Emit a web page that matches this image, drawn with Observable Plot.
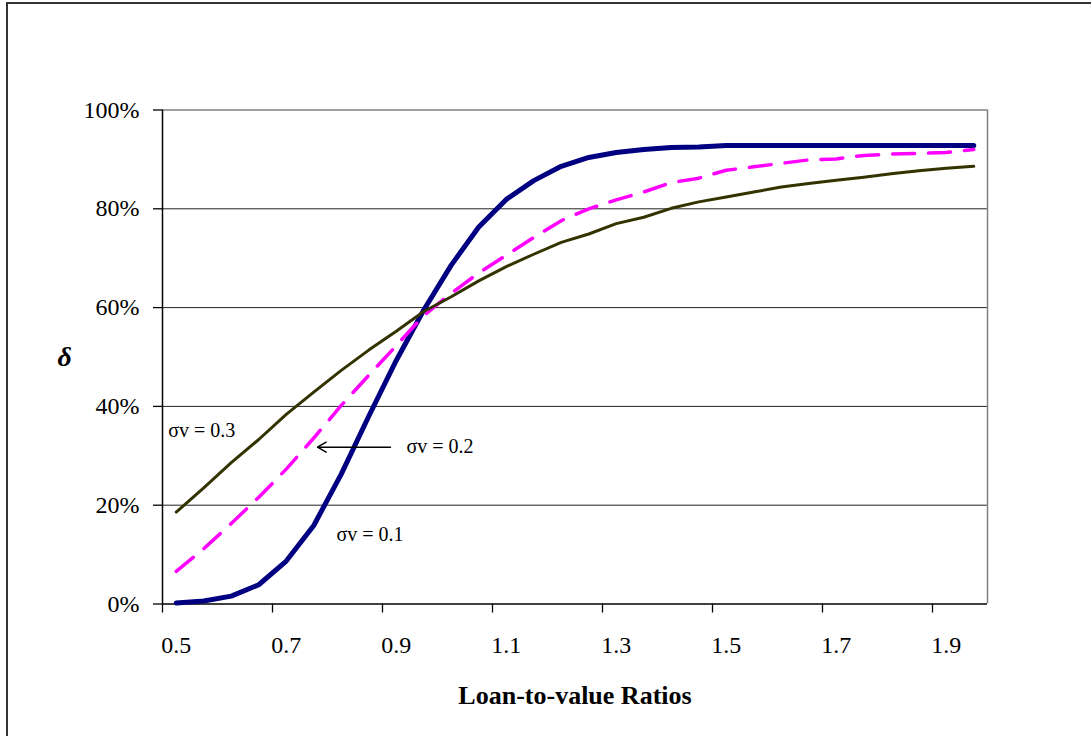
<!DOCTYPE html>
<html><head><meta charset="utf-8">
<script src="https://cdn.jsdelivr.net/npm/d3@7"></script>
<script src="https://cdn.jsdelivr.net/npm/@observablehq/plot@0.6"></script>
<style>
html,body{margin:0;padding:0;background:#fff;overflow:hidden;width:1091px;height:736px}
#frame{position:absolute;left:6px;top:2px;width:1200px;height:800px;border-left:2px solid #333;border-top:2px solid #333;}
#chart{position:absolute;left:0;top:0}
</style></head><body><div id="frame"></div><div id="chart"></div>
<script>
const ltv = [0.5,0.55,0.6,0.65,0.7,0.75,0.8,0.85,0.9,0.95,1.0,1.05,1.1,1.15,1.2,1.25,1.3,1.35,1.4,1.45,1.5,1.55,1.6,1.65,1.7,1.75,1.8,1.85,1.9,1.95];
const sigma01 = [0.2,0.6,1.6,3.9,8.7,15.9,26.3,38.0,49.3,59.5,68.6,76.3,81.9,85.7,88.6,90.4,91.4,92.0,92.4,92.5,92.8,92.8,92.8,92.8,92.8,92.8,92.8,92.8,92.8,92.8];
const sigma02 = [6.6,11.2,16.3,21.6,27.3,33.6,40.2,46.3,52.3,58.4,62.9,67.0,70.6,74.2,77.6,80.0,81.8,83.4,85.3,86.2,87.8,88.5,89.2,89.9,90.1,90.8,91.1,91.2,91.4,92.0];
const sigma03 = [18.6,23.5,28.6,33.3,38.4,42.9,47.3,51.4,55.2,59.2,62.2,65.4,68.3,70.8,73.2,74.9,77.0,78.3,80.1,81.4,82.4,83.4,84.4,85.1,85.8,86.4,87.1,87.7,88.2,88.6];
const xTickLabels = ["0.5","0.7","0.9","1.1","1.3","1.5","1.7","1.9"];
const yTicks = [0,20,40,60,80,100];
const annotations = [
  {label:"σv = 0.3", x:0.4854, y:33.9},
  {label:"σv = 0.2", x:0.9186, y:30.5},
  {label:"σv = 0.1", x:0.7914, y:12.85}
];
const arrowSpec = [{x1:0.8895, x2:0.7568, y:31.74}];
const xTitle = "Loan-to-value Ratios";
const yTitle = "δ";

const step = 0.05;
const x0 = ltv[0] - step/2, x1 = ltv[ltv.length-1] + step/2;
const toRows = vals => ltv.map((x,i) => ({x, v: vals[i]}));
const serif = "'Liberation Serif','Times New Roman',serif";

const plot = Plot.plot({
  width: 1091, height: 736,
  marginLeft: 162, marginRight: 104, marginTop: 109.5, marginBottom: 132.5,
  style: {fontFamily: serif, fontSize: "24px", color: "#000", background: "transparent"},
  x: {domain: [x0, x1]},
  y: {domain: [0, 100]},
  marks: [
    Plot.ruleY(yTicks.filter(d => d > 0 && d < 100), {stroke: "#222", strokeWidth: 1}),
    Plot.ruleY([100], {stroke: "#808080", strokeWidth: 1.5}),
    Plot.ruleX([x1], {stroke: "#808080", strokeWidth: 1.5}),
    Plot.axisY({ticks: yTicks, tickFormat: d => d + "%", tickSize: 9, tickPadding: 14, label: null, fontSize: 24, strokeWidth: 1.3}),
    Plot.axisX({ticks: xTickLabels.map(Number), tickFormat: d => xTickLabels.find(s => Math.abs(+s - d) < 1e-9), tickSize: 0, tickPadding: 32, label: null, fontSize: 24}),
    Plot.axisX({ticks: xTickLabels.map(s => +s - step/2), tickFormat: () => "", tickSize: 9, label: null, strokeWidth: 1.3}),
    Plot.ruleX([x0], {stroke: "#000", strokeWidth: 1.5}),
    Plot.ruleY([0], {stroke: "#000", strokeWidth: 1.5}),
    Plot.line(toRows(sigma01), {x: "x", y: "v", stroke: "#000080", strokeWidth: 5, strokeLinejoin: "round", strokeLinecap: "round"}),
    Plot.line(toRows(sigma02), {x: "x", y: "v", stroke: "#FF00FF", strokeWidth: 3.5, strokeDasharray: "22,14", strokeLinejoin: "round"}),
    Plot.line(toRows(sigma03), {x: "x", y: "v", stroke: "#333300", strokeWidth: 3, strokeLinejoin: "round", strokeLinecap: "round"}),
    Plot.text(annotations, {x: "x", y: "y", text: "label", textAnchor: "start", lineAnchor: "bottom", fontSize: 20, fill: "#000"}),
    Plot.arrow(arrowSpec, {x1: "x1", x2: "x2", y1: "y", y2: "y", stroke: "#000", strokeWidth: 1.5, headLength: 10}),
    Plot.text([xTitle], {frameAnchor: "bottom", dy: 99.5, lineAnchor: "bottom", fontWeight: "bold", fontSize: 26, fill: "#000"}),
    Plot.text([yTitle], {frameAnchor: "left", dx: -105, fontStyle: "italic", fontWeight: "bold", fontSize: 28, fill: "#000"})
  ]
});
document.getElementById("chart").appendChild(plot);
</script>
</body></html>
